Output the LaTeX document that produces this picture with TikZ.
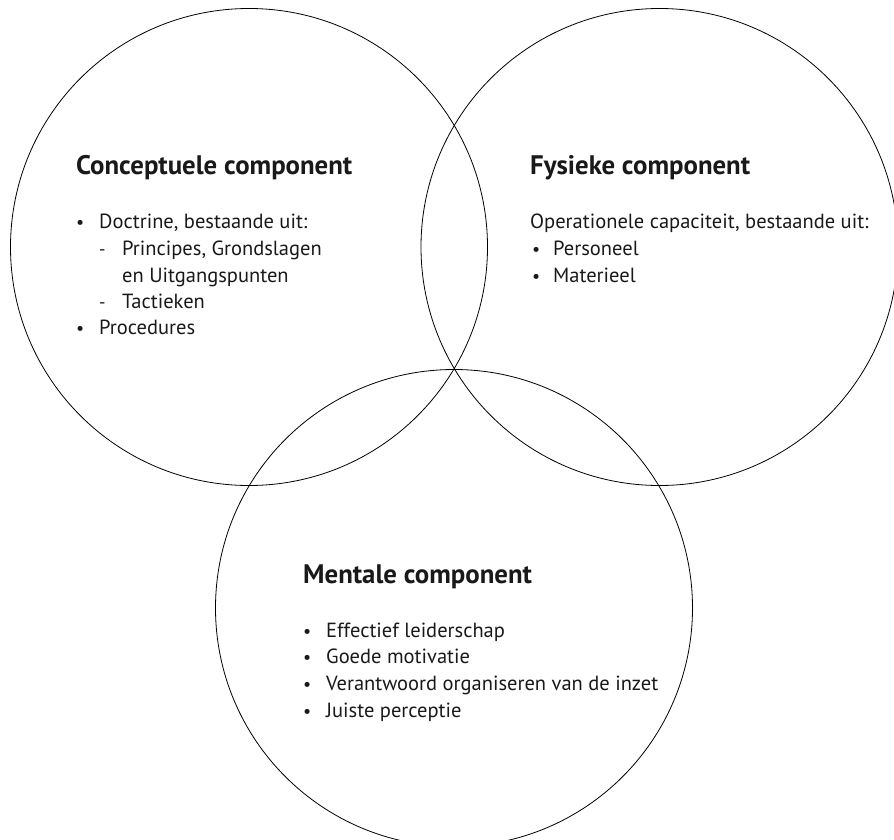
\documentclass[tikz,border=0pt]{standalone}
\usepackage{fontspec}
\setmainfont{PT Sans}
\begin{document}
\begin{tikzpicture}[x=1pt,y=-1pt,
  circ/.style={circle, draw, line width=0.8pt, inner sep=0pt, outer sep=0pt, minimum size=477pt},
  ttl/.style={anchor=base west, inner sep=0pt, font=\bfseries\fontsize{26.8}{32}\selectfont, text=black!90},
  bdy/.style={anchor=base west, inner sep=0pt, font=\fontsize{20.5}{25}\selectfont, text=black!90},
  bul/.style={anchor=base west, inner sep=0pt, font=\fontsize{18}{24}\selectfont, text=black!90}]
\useasboundingbox (0,0) rectangle (894,840);
\clip (0,0) rectangle (894,840);
% circles
\node[circ] (cC) at (249,247) {};
\node[circ] (cF) at (659.5,247) {};
\node[circ] (cM) at (454,608) {};
% Conceptuele component
\node[ttl] (t1) at (76,175) {Conceptuele component};
\node[bul] (b11) at (76,228) {•};
\node[bdy] (l11) at (99,228) {Doctrine, bestaande uit:};
\node[bul] (b12) at (99,255) {-};
\node[bdy] (l12) at (122,255) {Principes, Grondslagen};
\node[bdy] (l13) at (122,282) {en Uitgangspunten};
\node[bul] (b14) at (99,308) {-};
\node[bdy] (l14) at (122,308) {Tactieken};
\node[bul] (b15) at (76,334) {•};
\node[bdy] (l15) at (99,334) {Procedures};
% Fysieke component
\node[ttl] (t2) at (530,175) {Fysieke component};
\node[bdy] (l21) at (530,228) {Operationele capaciteit, bestaande uit:};
\node[bul] (b22) at (532,255) {•};
\node[bdy] (l22) at (553,255) {Personeel};
\node[bul] (b23) at (532,282) {•};
\node[bdy] (l23) at (553,282) {Materieel};
% Mentale component
\node[ttl] (t3) at (303,583) {Mentale component};
\node[bul] (b31) at (303,637) {•};
\node[bdy] (l31) at (326,637) {Effectief leiderschap};
\node[bul] (b32) at (303,663) {•};
\node[bdy] (l32) at (326,663) {Goede motivatie};
\node[bul] (b33) at (303,690) {•};
\node[bdy] (l33) at (326,690) {Verantwoord organiseren van de inzet};
\node[bul] (b34) at (303,717) {•};
\node[bdy] (l34) at (326,717) {Juiste perceptie};
\end{tikzpicture}
\end{document}
